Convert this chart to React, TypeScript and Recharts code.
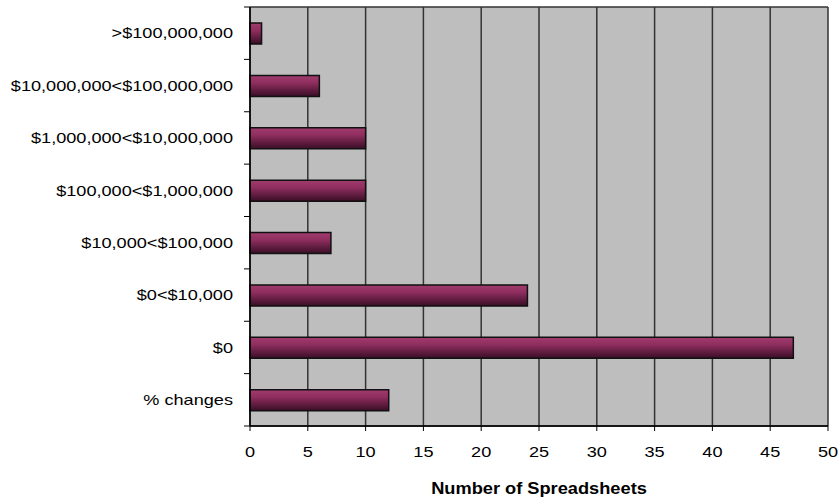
import { BarChart, Bar, XAxis, YAxis, CartesianGrid, Label } from 'recharts'

// values, top to bottom
const categories = [
  '>$100,000,000',
  '$10,000,000<$100,000,000',
  '$1,000,000<$10,000,000',
  '$100,000<$1,000,000',
  '$10,000<$100,000',
  '$0<$10,000',
  '$0',
  '% changes',
]
const counts = [1, 6, 10, 10, 7, 24, 47, 12]
const xTicks = [0, 5, 10, 15, 20, 25, 30, 35, 40, 45, 50]

const data = categories.map((name, i) => ({ name, count: counts[i] }))

const FONT = "'Liberation Sans', Arial, sans-serif"
const PLOT_BG = '#BEBEBE'
const GRID = '#333333'
const STRETCH = 1.25 // reference text is squashed wide
const Y_TICK_SIZE = 6
const Y_TICK_MARGIN = 11

function YTick({ x, y, payload, index }: any) {
  const half = payload.offset ?? 26
  const x0 = x + Y_TICK_MARGIN
  return (
    <g>
      <text
        x={x}
        y={y}
        dy="0.36em"
        textAnchor="end"
        fontSize={14.5}
        fontFamily={FONT}
        fill="#000"
        transform={`translate(${x},0) scale(${STRETCH},1) translate(${-x},0)`}
      >
        {payload.value}
      </text>
      <line x1={x0} x2={x0 + Y_TICK_SIZE} y1={y - half} y2={y - half} stroke="#000" />
      {index === categories.length - 1 && (
        <line x1={x0} x2={x0 + Y_TICK_SIZE} y1={y + half} y2={y + half} stroke="#000" />
      )}
    </g>
  )
}

function XTick({ x, y, payload }: any) {
  return (
    <text
      x={x}
      y={y}
      dy="0.72em"
      textAnchor="middle"
      fontSize={14.5}
      fontFamily={FONT}
      fill="#000"
      transform={`translate(${x},0) scale(${STRETCH},1) translate(${-x},0)`}
    >
      {payload.value}
    </text>
  )
}

function AxisTitle({ viewBox }: any) {
  const cx = viewBox.x + viewBox.width / 2
  return (
    <text
      x={cx}
      y={viewBox.y + viewBox.height - 6}
      textAnchor="middle"
      fontSize={16}
      fontWeight="bold"
      fontFamily={FONT}
      fill="#000"
      transform={`translate(${cx},0) scale(1.14,1) translate(${-cx},0)`}
    >
      Number of Spreadsheets
    </text>
  )
}

export default function App() {
  return (
    <div style={{ position: 'absolute', left: 0, top: 0, width: 840, height: 500, background: '#fff' }}>
      <BarChart
        width={840}
        height={500}
        data={data}
        layout="vertical"
        margin={{ top: 7, right: 12, left: 0, bottom: 0 }}
      >
        <defs>
          <linearGradient id="gradBar" x1="0" y1="0" x2="0" y2="1">
            <stop offset="0%" stopColor="#a23c6e" />
            <stop offset="35%" stopColor="#8f2e5f" />
            <stop offset="100%" stopColor="#3a0e26" />
          </linearGradient>
        </defs>
        <CartesianGrid
          fill={PLOT_BG}
          stroke={GRID}
          strokeWidth={1.5}
          horizontalCoordinatesGenerator={({ offset }: any) => [offset.top, offset.top + offset.height]}
        />
        <XAxis
          type="number"
          domain={[0, 50]}
          ticks={xTicks}
          interval={0}
          height={74}
          tickSize={5}
          tickMargin={16}
          tick={<XTick />}
          axisLine={{ stroke: '#000', strokeWidth: 1.5 }}
          tickLine={{ stroke: '#000' }}
        >
          <Label content={<AxisTitle />} />
        </XAxis>
        <YAxis
          type="category"
          dataKey="name"
          width={250}
          interval={0}
          tickSize={Y_TICK_SIZE}
          tickMargin={Y_TICK_MARGIN}
          tickLine={false}
          tick={<YTick />}
          axisLine={{ stroke: '#000', strokeWidth: 1.5 }}
        />
        <Bar
          dataKey="count"
          barSize={21}
          fill="url(#gradBar)"
          stroke="#111"
          strokeWidth={1.5}
          isAnimationActive={false}
        />
      </BarChart>
    </div>
  )
}
